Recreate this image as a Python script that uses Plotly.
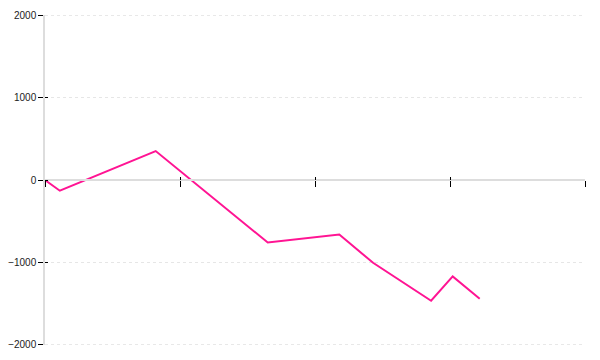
import plotly.graph_objects as go

x_vals = [0, 0.11, 0.82, 1.65, 2.18, 2.43, 2.86, 3.02, 3.22]
y_vals = [0, -130, 352, -760, -663, -1006, -1467, -1172, -1442]
x_ticks = [0, 1, 2, 3, 4]
y_ticks = [-2000, -1000, 0, 1000, 2000]
y_tick_labels = ["\u22122000", "\u22121000", "0", "1000", "2000"]
y_range = [-2005, 2005]

fig = go.Figure()
fig.add_trace(go.Scatter(x=x_vals, y=y_vals, mode="lines",
                         line=dict(color="#ff1493", width=2),
                         showlegend=False, hoverinfo="skip", cliponaxis=False))
fig.add_trace(go.Scatter(x=[None], y=[None], xaxis="x2", yaxis="y2", mode="lines",
                         showlegend=False, hoverinfo="skip"))

grid_color = "#e6e6e6"
# grid lines at the outer ticks (plotly drops them at the plot edges)
for yv in (y_ticks[0], y_ticks[-1]):
    fig.add_shape(type="line", xref="paper", x0=0, x1=1, yref="y", y0=yv, y1=yv,
                  line=dict(color=grid_color, dash="dot", width=1), layer="below")

font = dict(family="Liberation Sans, Arial", size=10, color="#222")

fig.update_layout(
    width=600, height=360,
    margin=dict(l=45, r=15, t=15, b=15, autoexpand=False),
    paper_bgcolor="white", plot_bgcolor="white",
    showlegend=False,
    xaxis=dict(range=[0, 4], tickvals=x_ticks, showticklabels=False,
               ticks="outside", ticklen=6, tickcolor="black", tickwidth=1,
               showline=True, linecolor="#dddddd", linewidth=1.5,
               showgrid=False, zeroline=False, automargin=False,
               anchor="free", position=0.5),
    xaxis2=dict(range=[0, 4], tickvals=x_ticks, showticklabels=False,
                ticks="inside", ticklen=3, tickcolor="black", tickwidth=1,
                showline=False, showgrid=False, zeroline=False, automargin=False,
                overlaying="x", anchor="free", position=0.5),
    yaxis=dict(range=y_range, tickvals=y_ticks, ticktext=y_tick_labels,
               ticks="outside", ticklen=5, tickcolor="black", tickwidth=1,
               showline=True, linecolor="#dddddd", linewidth=1.5,
               showgrid=True, gridcolor=grid_color, griddash="dot", gridwidth=1,
               zeroline=False, tickfont=font, automargin=False),
    yaxis2=dict(range=y_range, tickvals=y_ticks, showticklabels=False,
                ticks="inside", ticklen=3, tickcolor="black", tickwidth=1,
                showline=False, showgrid=False, zeroline=False, automargin=False,
                overlaying="y", anchor="x2"),
)

fig.write_html("out.html")
